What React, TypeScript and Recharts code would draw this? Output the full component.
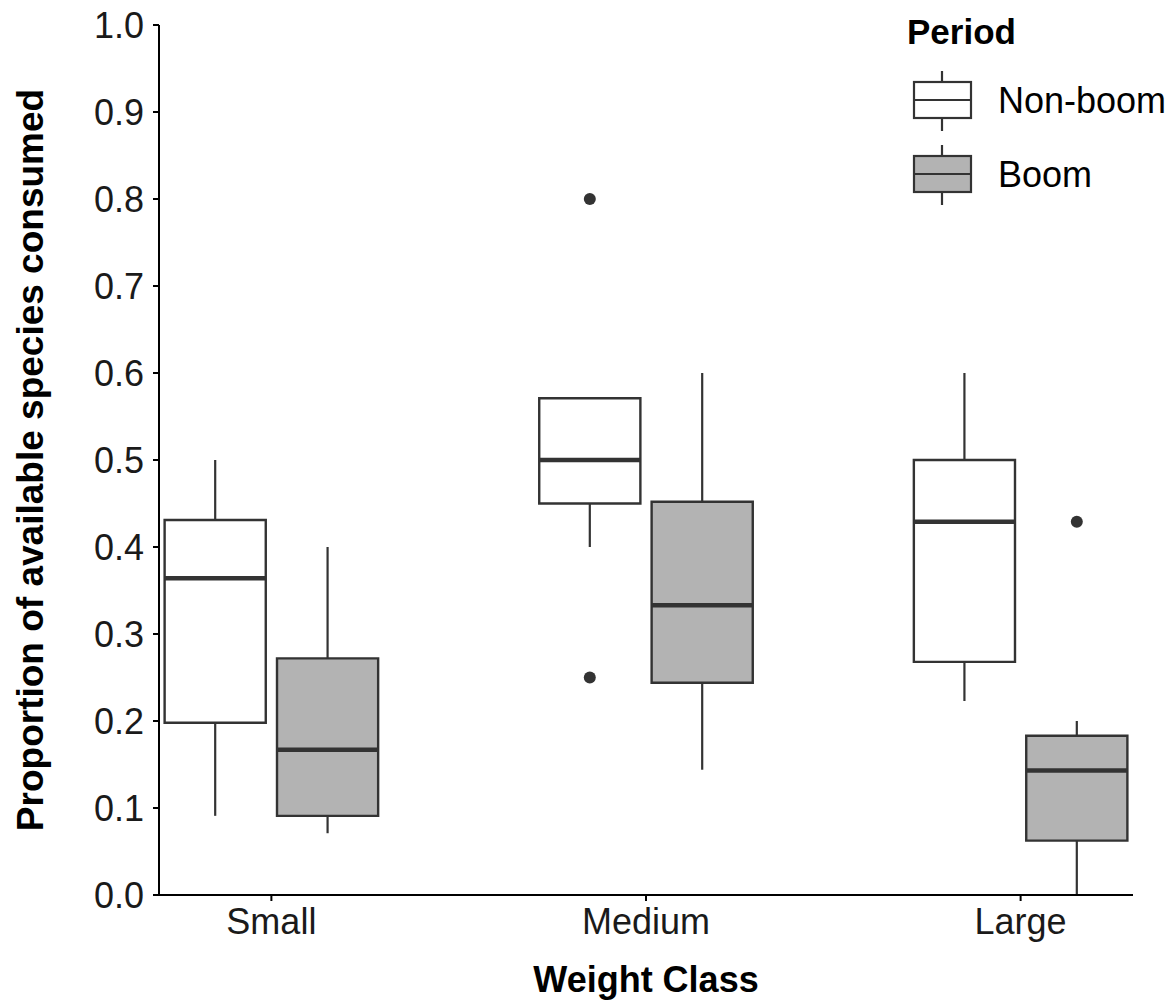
import {
  ComposedChart,
  Legend,
  ReferenceArea,
  ReferenceLine,
  Scatter,
  XAxis,
  YAxis,
} from "recharts";

const FONT = '"Liberation Sans", Arial, Helvetica, sans-serif';
const INK = "#333333";
const BOOM_FILL = "#b3b3b3";

const CATEGORIES = ["Small", "Medium", "Large"];
const PERIODS = ["Non-boom", "Boom"];
const Y_TICKS = [0, 0.1, 0.2, 0.3, 0.4, 0.5, 0.6, 0.7, 0.8, 0.9, 1.0];

// five-number summaries, one entry per weight class (Small, Medium, Large)
const NON_BOOM_MIN = [0.091, 0.4, 0.223];
const NON_BOOM_Q1 = [0.198, 0.45, 0.268];
const NON_BOOM_MEDIAN = [0.364, 0.5, 0.429];
const NON_BOOM_Q3 = [0.431, 0.571, 0.5];
const NON_BOOM_MAX = [0.5, 0.571, 0.6];

const BOOM_MIN = [0.071, 0.144, 0];
const BOOM_Q1 = [0.091, 0.244, 0.0625];
const BOOM_MEDIAN = [0.167, 0.333, 0.143];
const BOOM_Q3 = [0.272, 0.452, 0.183];
const BOOM_MAX = [0.4, 0.6, 0.2];

const NON_BOOM_OUTLIERS = [
  { category: "Medium", value: 0.8 },
  { category: "Medium", value: 0.25 },
];
const BOOM_OUTLIERS = [{ category: "Large", value: 0.429 }];

// dodge offset of each period from the category centre, and half box width
const DODGE = 0.15;
const HALF = 0.135;

const boxes = CATEGORIES.flatMap((_, i) => [
  {
    key: `nb-${i}`,
    x: i + 1 - DODGE,
    min: NON_BOOM_MIN[i],
    q1: NON_BOOM_Q1[i],
    median: NON_BOOM_MEDIAN[i],
    q3: NON_BOOM_Q3[i],
    max: NON_BOOM_MAX[i],
    fill: "#ffffff",
  },
  {
    key: `b-${i}`,
    x: i + 1 + DODGE,
    min: BOOM_MIN[i],
    q1: BOOM_Q1[i],
    median: BOOM_MEDIAN[i],
    q3: BOOM_Q3[i],
    max: BOOM_MAX[i],
    fill: BOOM_FILL,
  },
]);

const outliers = [
  ...NON_BOOM_OUTLIERS.map((o) => ({ x: CATEGORIES.indexOf(o.category) + 1 - DODGE, y: o.value })),
  ...BOOM_OUTLIERS.map((o) => ({ x: CATEGORIES.indexOf(o.category) + 1 + DODGE, y: o.value })),
];

function LegendKey({ y, fill }: { y: number; fill: string }) {
  // y = vertical centre of the key glyph
  return (
    <g stroke={INK} strokeWidth={2.2}>
      <line x1={42} x2={42} y1={y - 29} y2={y + 31} />
      <rect x={14} y={y - 18} width={57} height={36} fill={fill} />
      <line x1={14} x2={71} y1={y} y2={y} />
    </g>
  );
}

function PeriodLegend() {
  return (
    <svg width={273} height={215} style={{ display: "block", fontFamily: FONT }}>
      <text x={7} y={44} fontSize={35} fontWeight="bold" fill="#000">
        Period
      </text>
      <LegendKey y={100} fill="#ffffff" />
      <text x={98} y={113} fontSize={36} fill="#000">
        {PERIODS[0]}
      </text>
      <LegendKey y={174} fill={BOOM_FILL} />
      <text x={98} y={187} fontSize={36} fill="#000">
        {PERIODS[1]}
      </text>
    </svg>
  );
}

export default function App() {
  return (
    <div
      style={{
        position: "absolute",
        left: 0,
        top: 0,
        width: 1173,
        height: 1003,
        background: "#fff",
        fontFamily: FONT,
      }}
    >
      <ComposedChart width={1173} height={1003} margin={{ top: 25, right: 40, bottom: 0, left: 0 }}>
        <XAxis
          type="number"
          dataKey="x"
          domain={[0.7, 3.3]}
          ticks={[1, 2, 3]}
          tickFormatter={(v) => CATEGORIES[Number(v) - 1]}
          allowDataOverflow
          height={108}
          stroke="#000"
          strokeWidth={2}
          tickSize={6}
          tickMargin={7}
          tick={{ fill: "#1a1a1a", fontSize: 36, fontFamily: FONT }}
          label={{
            value: "Weight Class",
            position: "insideBottom",
            offset: 11,
            fontSize: 36,
            fontWeight: "bold",
            fill: "#000",
            fontFamily: FONT,
          }}
        />
        <YAxis
          type="number"
          dataKey="y"
          domain={[0, 1]}
          ticks={Y_TICKS}
          tickFormatter={(v) => Number(v).toFixed(1)}
          allowDataOverflow
          width={159}
          stroke="#000"
          strokeWidth={2}
          tickSize={6}
          tickMargin={9}
          tick={{ fill: "#1a1a1a", fontSize: 36, fontFamily: FONT }}
          label={{
            value: "Proportion of available species consumed",
            angle: -90,
            position: "insideLeft",
            offset: 30,
            fontSize: 37,
            fontWeight: "bold",
            fill: "#000",
            fontFamily: FONT,
            style: { textAnchor: "middle" },
          }}
        />

        {boxes.map((b) => (
          <ReferenceLine
            key={`wl-${b.key}`}
            segment={[
              { x: b.x, y: b.min },
              { x: b.x, y: b.q1 },
            ]}
            stroke={INK}
            strokeWidth={2.2}
          />
        ))}
        {boxes.map((b) => (
          <ReferenceLine
            key={`wh-${b.key}`}
            segment={[
              { x: b.x, y: b.q3 },
              { x: b.x, y: b.max },
            ]}
            stroke={INK}
            strokeWidth={2.2}
          />
        ))}
        {boxes.map((b) => (
          <ReferenceArea
            key={`box-${b.key}`}
            x1={b.x - HALF}
            x2={b.x + HALF}
            y1={b.q1}
            y2={b.q3}
            fill={b.fill}
            fillOpacity={1}
            stroke={INK}
            strokeWidth={2.4}
          />
        ))}
        {boxes.map((b) => (
          <ReferenceLine
            key={`med-${b.key}`}
            segment={[
              { x: b.x - HALF, y: b.median },
              { x: b.x + HALF, y: b.median },
            ]}
            stroke={INK}
            strokeWidth={4.5}
          />
        ))}

        <Scatter
          data={outliers}
          isAnimationActive={false}
          shape={(p: any) => <circle cx={p.cx} cy={p.cy} r={6} fill={INK} />}
        />

        <Legend
          layout="vertical"
          align="center"
          verticalAlign="middle"
          wrapperStyle={{ left: 900, top: 0, width: 273, height: 215 }}
          content={() => <PeriodLegend />}
        />
      </ComposedChart>
    </div>
  );
}
